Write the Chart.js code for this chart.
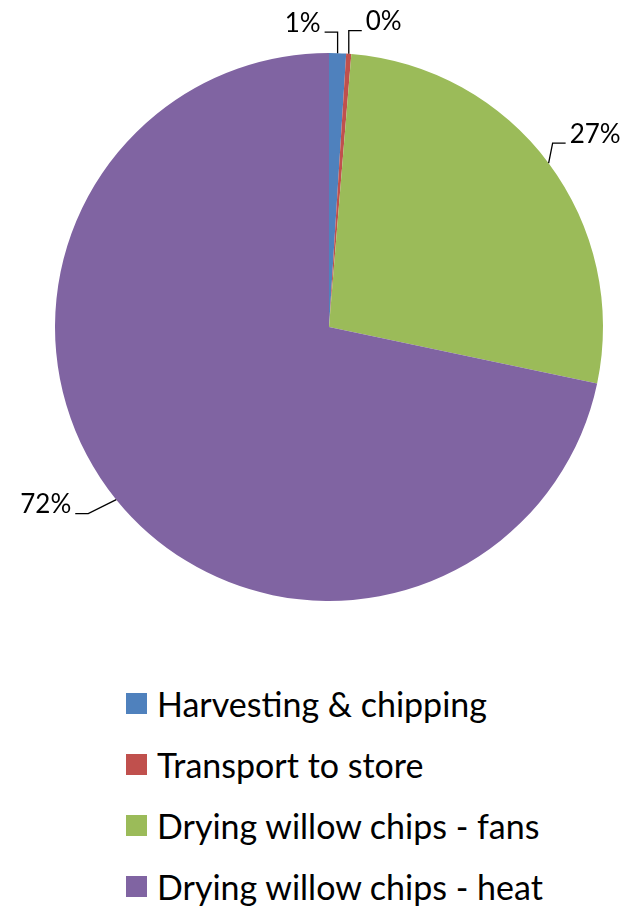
<!DOCTYPE html>
<html>
<head>
<meta charset="utf-8">
<script src="https://cdn.jsdelivr.net/npm/chart.js@4/dist/chart.umd.min.js"></script>
<style>
  html, body { margin: 0; padding: 0; background: #fff; }
  #wrap { position: relative; width: 631px; height: 906px; overflow: hidden; }
  #box { position: absolute; left: 0; top: 0; width: 631px; height: 650px; }
  #legend { position: absolute; left: 126px; top: 673px; font-family: Lato, "Open Sans", sans-serif; font-size: 34px; color: #000; }
  #legend .item { height: 61px; display: flex; align-items: center; white-space: nowrap; }
  #legend .sw { width: 21px; height: 21px; margin-right: 10px; flex: none; }
</style>
</head>
<body>
<div id="wrap">
  <div id="box"><canvas id="myChart"></canvas></div>
  <div id="legend"></div>
</div>
<script>
// data
const categories = ["Harvesting & chipping", "Transport to store", "Drying willow chips - fans", "Drying willow chips - heat"];
const shares = [1.0, 0.3, 27.0, 71.7];
const pctLabels = ["1%", "0%", "27%", "72%"];
const colors = ["#4F81BD", "#C0504D", "#9BBB59", "#8064A2"];

// leader line elbows, relative to the point on the rim (dx, dy, side of text)
const leaders = [
  { dx: 0, dy: -21, side: -1 },
  { dx: 0, dy: -23, side: 1 },
  { dx: 4, dy: -20, side: 1 },
  { dx: -28, dy: 14, side: -1 }
];

const leaderLabels = {
  id: 'leaderLabels',
  afterDatasetsDraw(chart) {
    const ctx = chart.ctx;
    const meta = chart.getDatasetMeta(0);
    ctx.save();
    ctx.strokeStyle = '#000';
    ctx.lineWidth = 1.3;
    ctx.fillStyle = '#000';
    ctx.font = '26px Lato, "Open Sans", sans-serif';
    ctx.textBaseline = 'middle';
    meta.data.forEach((arc, i) => {
      const p = arc.getProps(['x', 'y', 'startAngle', 'endAngle', 'outerRadius'], true);
      const mid = (p.startAngle + p.endAngle) / 2;
      const px = p.x + Math.cos(mid) * p.outerRadius;
      const py = p.y + Math.sin(mid) * p.outerRadius;
      const l = leaders[i];
      const ex = px + l.dx, ey = py + l.dy;
      const hx = ex + l.side * 13;
      ctx.beginPath();
      ctx.moveTo(px, py);
      ctx.lineTo(ex, ey);
      ctx.lineTo(hx, ey);
      ctx.stroke();
      ctx.textAlign = l.side > 0 ? 'left' : 'right';
      ctx.fillText(pctLabels[i], hx + l.side * 4, ey - 9);
    });
    ctx.restore();
  }
};

const ctx = document.getElementById('myChart').getContext('2d');
const myChart = new Chart(ctx, {
  type: 'pie',
  data: {
    labels: categories,
    datasets: [{
      data: shares,
      backgroundColor: colors,
      borderWidth: 0
    }]
  },
  options: {
    responsive: true,
    maintainAspectRatio: false,
    animation: false,
    layout: { padding: { top: 53, bottom: 49, left: 55, right: 28 } },
    plugins: {
      legend: { display: false },
      tooltip: { enabled: false }
    }
  },
  plugins: [leaderLabels]
});

// legend as html text
const legend = document.getElementById('legend');
categories.forEach((c, i) => {
  const item = document.createElement('div');
  item.className = 'item';
  const sw = document.createElement('span');
  sw.className = 'sw';
  sw.style.background = colors[i];
  const t = document.createElement('span');
  t.textContent = c;
  item.appendChild(sw);
  item.appendChild(t);
  legend.appendChild(item);
});
</script>
</body>
</html>
